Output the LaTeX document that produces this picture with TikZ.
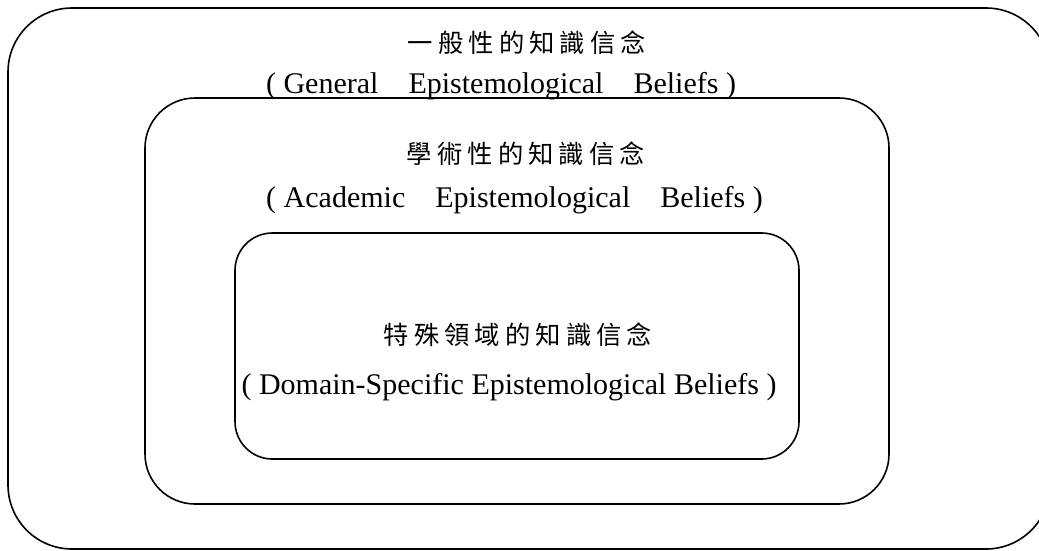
\documentclass[tikz,border=0pt]{standalone}
\usepackage{fontspec}
\setmainfont{Liberation Serif}
\newfontfamily\cjk{Noto Sans CJK TC}[LetterSpace=20]
\usepackage{tikz}
\usetikzlibrary{positioning}

\begin{document}
\begin{tikzpicture}[x=0.75pt, y=-0.75pt,
        beliefbox/.style={rectangle, draw=black, line width=1.2pt, inner sep=0pt, outer sep=0pt},
        cjktitle/.style={inner sep=0pt, font=\cjk\fontsize{19pt}{21pt}\selectfont},
        engname/.style={inner sep=0pt, anchor=base, font=\fontsize{22.5pt}{25pt}\selectfont}]
        \useasboundingbox (0,0) rectangle (1039,550);

        \node[beliefbox, minimum width=781.5pt, minimum height=405.75pt, rounded corners=48pt] (general) at (529,278.5) {};
        \node[beliefbox, minimum width=558pt, minimum height=304.5pt, rounded corners=37.5pt] (academic) at (517,301) {};
        \node[beliefbox, minimum width=423pt, minimum height=169.5pt, rounded corners=28pt] (domain) at (517,346) {};

        \node[cjktitle] (gentitle) at (527,43) {一般性的知識信念};
        \node[engname] (genname) at (501,93) {(\hspace{0.25em}General\hspace{1em}Epistemological\hspace{1em}Beliefs\hspace{0.25em})};

        \node[cjktitle] (acatitle) at (526,154) {學術性的知識信念};
        \node[engname] (acaname) at (514.5,207) {(\hspace{0.25em}Academic\hspace{1em}Epistemological\hspace{1em}Beliefs\hspace{0.25em})};

        \node[cjktitle] (domtitle) at (518,335) {特殊領域的知識信念};
        \node[engname] (domname) at (509,394) {(\hspace{0.25em}Domain-Specific Epistemological Beliefs\hspace{0.25em})};
    \end{tikzpicture}
\end{document}
